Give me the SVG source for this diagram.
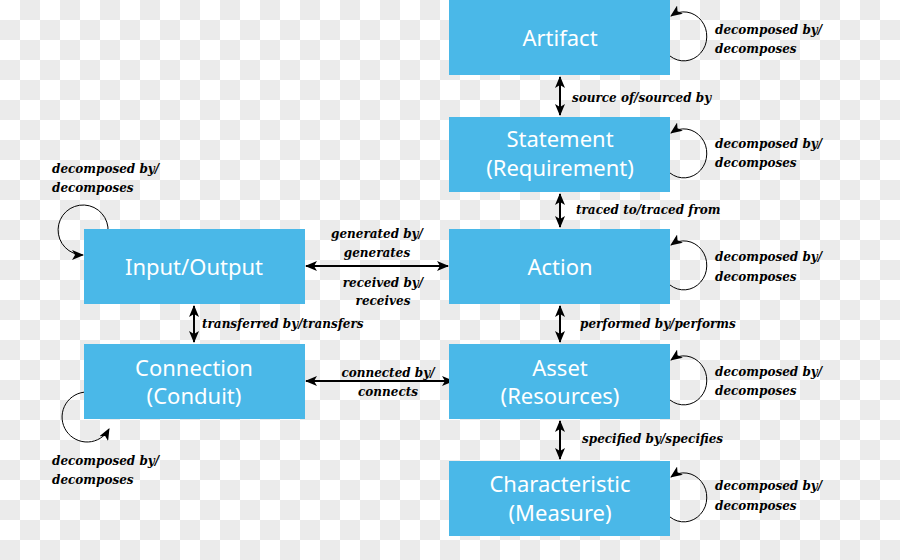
<svg xmlns="http://www.w3.org/2000/svg" width="900" height="560" viewBox="0 0 900 560">
<defs>
<pattern id="checker" x="0" y="0" width="40" height="40" patternUnits="userSpaceOnUse">
<rect width="40" height="40" fill="#ffffff"/>
<rect x="20" y="0" width="20" height="20" fill="#ebebeb"/>
<rect x="0" y="20" width="20" height="20" fill="#ebebeb"/>
</pattern>
<marker id="ah" viewBox="0 0 12 10" refX="11" refY="5" markerWidth="12" markerHeight="10" markerUnits="userSpaceOnUse" orient="auto-start-reverse">
<path d="M0,0 L12,5 L0,10 L3,5 Z" fill="#000"/>
</marker>
<marker id="sh" viewBox="0 0 12 10" refX="11" refY="5" markerWidth="12" markerHeight="10" markerUnits="userSpaceOnUse" orient="auto">
<path d="M0,0 L12,5 L0,10 L3,5 Z" fill="#000"/>
</marker>
</defs>
<style>
.box{fill:#4ab8e8;}
.bt{fill:#ffffff;font-family:"Noto Sans","Open Sans","DejaVu Sans",sans-serif;font-size:22px;text-anchor:middle;}
.lb{fill:#000;font-family:"DejaVu Serif","Liberation Serif",serif;font-size:12px;font-weight:bold;font-style:italic;}
.lc{text-anchor:middle;}
.conn{stroke:#000;stroke-width:2;fill:none;marker-start:url(#ah);marker-end:url(#ah);}
.loop{stroke:#000;stroke-width:1;fill:none;}
</style>
<rect width="900" height="560" fill="url(#checker)"/>

<g id="connectors">
<line class="conn" x1="560" y1="77" x2="560" y2="115"/>
<line class="conn" x1="560" y1="194" x2="560" y2="227"/>
<line class="conn" x1="560" y1="306" x2="560" y2="342"/>
<line class="conn" x1="560" y1="421" x2="560" y2="459"/>
<line class="conn" x1="194" y1="306" x2="194" y2="342"/>
<line class="conn" x1="306" y1="266" x2="448" y2="266"/>
<line class="conn" x1="306" y1="381" x2="453" y2="381"/>
<path class="loop" marker-end="url(#sh)" d="M670,56 A23,24.5 0 1 0 671,16"/>
<path class="loop" marker-end="url(#sh)" d="M670,173 A23,24.5 0 1 0 671,133"/>
<path class="loop" marker-end="url(#sh)" d="M670,285 A23,24.5 0 1 0 671,245"/>
<path class="loop" marker-end="url(#sh)" d="M670,400 A23,24.5 0 1 0 671,360"/>
<path class="loop" marker-end="url(#sh)" d="M670,517 A23,24.5 0 1 0 671,477"/>
<path class="loop" marker-end="url(#sh)" d="M108,232 A25,25 0 1 0 83,255"/>
<path class="loop" marker-end="url(#sh)" d="M84,392.2 A25,25 0 1 0 109,429"/>
</g>

<g id="artifact"><rect class="box" x="449" y="0" width="221" height="75"/><text class="bt" x="560" y="46">Artifact</text></g>
<g id="statement"><rect class="box" x="449" y="117" width="221" height="75"/><text class="bt" x="560" y="147">Statement</text><text class="bt" x="560" y="176">(Requirement)</text></g>
<g id="action"><rect class="box" x="449" y="229" width="221" height="75"/><text class="bt" x="560" y="275">Action</text></g>
<g id="asset"><rect class="box" x="449" y="344" width="221" height="75"/><text class="bt" x="560" y="376">Asset</text><text class="bt" x="560" y="404">(Resources)</text></g>
<g id="characteristic"><rect class="box" x="449" y="461" width="221" height="75"/><text class="bt" x="560" y="492">Characteristic</text><text class="bt" x="560" y="521">(Measure)</text></g>
<g id="inputoutput"><rect class="box" x="84" y="229" width="221" height="75"/><text class="bt" x="194" y="275">Input/Output</text></g>
<g id="connection"><rect class="box" x="84" y="344" width="221" height="75"/><text class="bt" x="194" y="376">Connection</text><text class="bt" x="194" y="404">(Conduit)</text></g>

<g id="labels">
<text class="lb" x="715" y="34">decomposed by/</text><text class="lb" x="715" y="53">decomposes</text>
<text class="lb" x="715" y="148">decomposed by/</text><text class="lb" x="715" y="167">decomposes</text>
<text class="lb" x="715" y="261">decomposed by/</text><text class="lb" x="715" y="281">decomposes</text>
<text class="lb" x="715" y="376">decomposed by/</text><text class="lb" x="715" y="395">decomposes</text>
<text class="lb" x="715" y="490">decomposed by/</text><text class="lb" x="715" y="510">decomposes</text>
<text class="lb" x="52" y="173">decomposed by/</text><text class="lb" x="52" y="192">decomposes</text>
<text class="lb" x="52" y="465">decomposed by/</text><text class="lb" x="52" y="484">decomposes</text>
<text class="lb" x="572" y="102">source of/sourced by</text>
<text class="lb" x="576" y="214">traced to/traced from</text>
<text class="lb" x="580" y="328">performed by/performs</text>
<text class="lb" x="582" y="443">specified by/specifies</text>
<text class="lb" x="202" y="328">transferred by/transfers</text>
<text class="lb lc" x="377" y="238">generated by/</text><text class="lb lc" x="377" y="257">generates</text>
<text class="lb lc" x="383" y="287">received by/</text><text class="lb lc" x="383" y="305">receives</text>
<text class="lb lc" x="388" y="377">connected by/</text><text class="lb lc" x="388" y="396">connects</text>
</g>
</svg>
